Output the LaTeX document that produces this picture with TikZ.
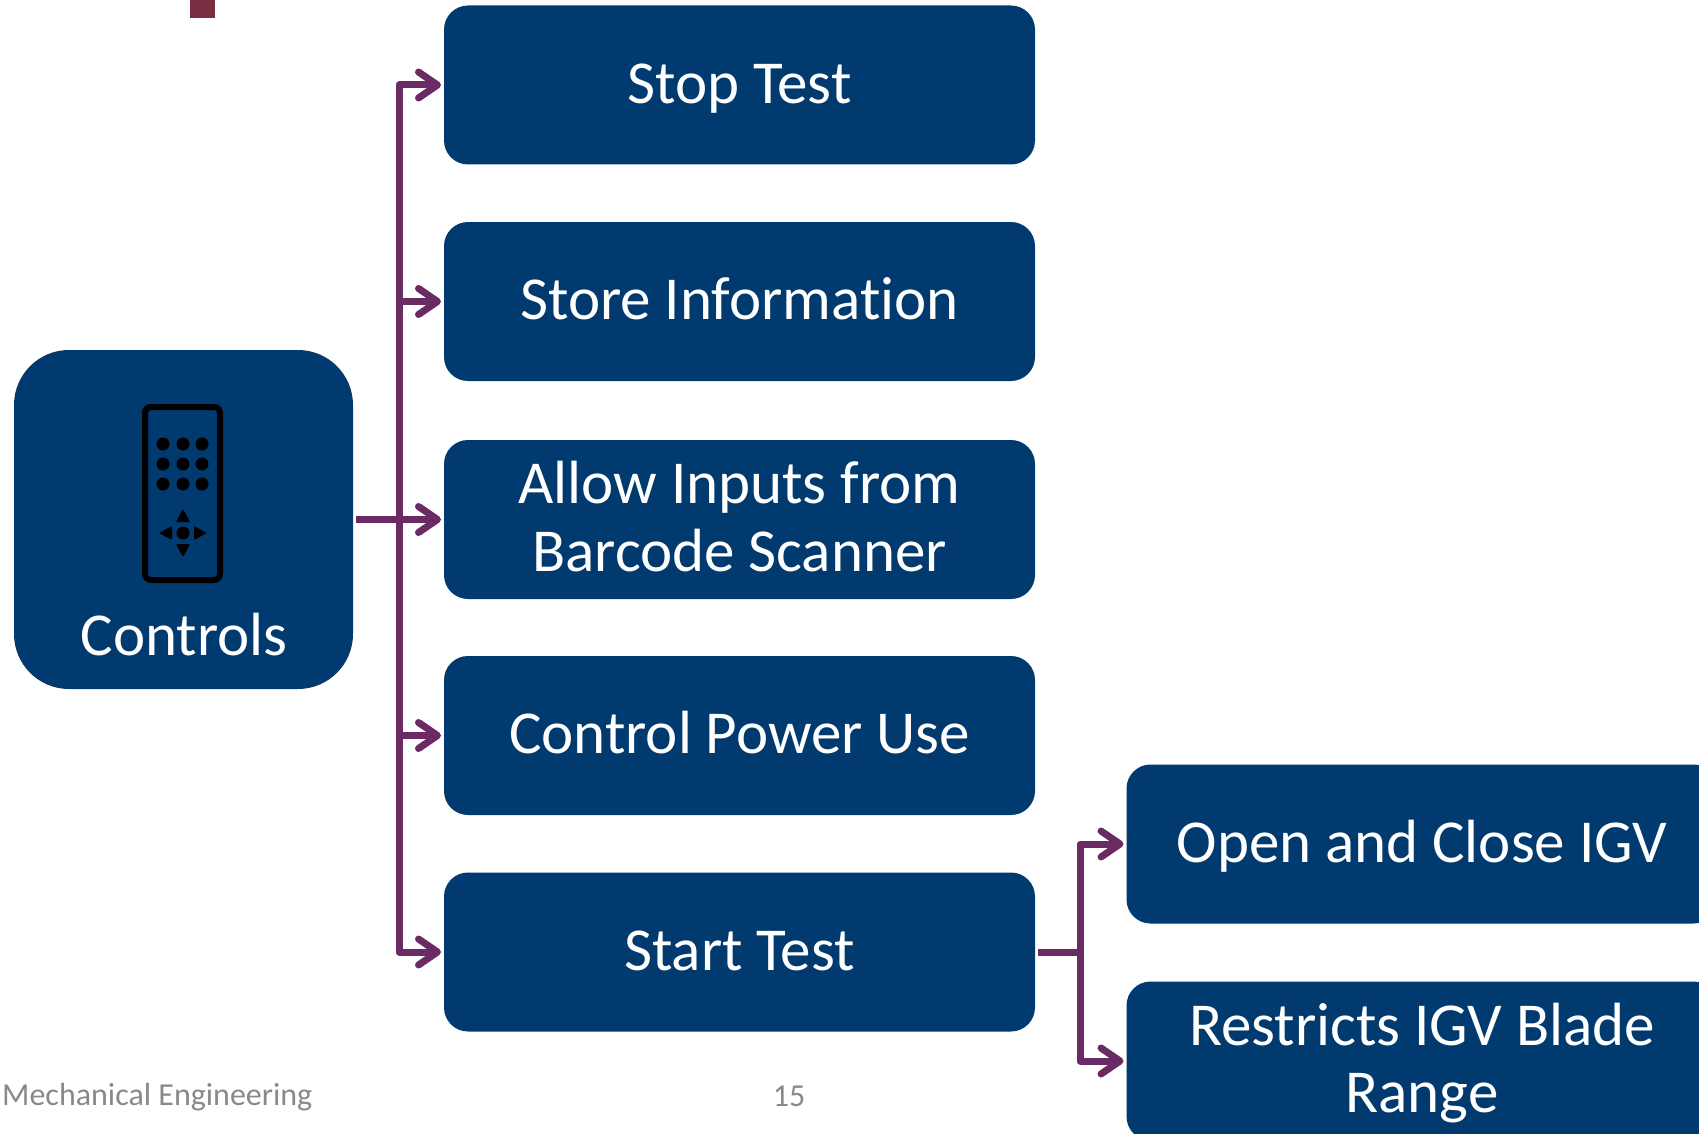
\documentclass[tikz,border=0pt]{standalone}
\usepackage{fontspec}
\setmainfont{Carlito}[Ligatures=CommonOff]
\usetikzlibrary{arrows.meta}
\definecolor{boxblue}{HTML}{003A6F}
\definecolor{flowpurple}{HTML}{6A2A64}
\definecolor{footgray}{HTML}{898989}
\definecolor{markred}{HTML}{7B2E42}
\newcommand{\linestrut}{\rule[-16pt]{0pt}{67.5pt}}
\tikzset{
taskbox/.style={fill=boxblue,text=white,minimum width=591pt,minimum height=159pt,rounded corners=24pt,inner sep=0pt,outer sep=3pt,align=center,font=\fontsize{61}{67.5}\selectfont},
onetask/.style={taskbox,text height=47.6pt,text depth=11.4pt},
flow/.style={draw=flowpurple,line width=7pt,line join=round},
flowarrow/.style={flow,-{Straight Barb[round,length=19pt,width=26pt]}},
footer/.style={text=footgray,inner sep=0pt,font=\fontsize{32}{38}\selectfont}
}
\begin{document}
\begin{tikzpicture}[x=1pt,y=-1pt]
\useasboundingbox (0,0) rectangle (1699,1134);
\fill[markred](190,0) rectangle +(25,18);
\node[taskbox,minimum width=339pt,minimum height=339pt,rounded corners=55pt] (controls) at (183.5,519.5) {};
\node[text=white,inner sep=0pt,font=\fontsize{61}{67.5}\selectfont] (controlslabel) at (184,635) {Controls};
\node[onetask] (stop) at (739.5,85) {Stop Test};
\node[onetask] (store) at (739.5,301.5) {Store Information};
\node[taskbox] (allow) at (739.5,519.5) {\linestrut Allow Inputs from\\\linestrut Barcode Scanner};
\node[onetask] (power) at (739.5,735.5) {Control Power Use};
\node[onetask] (start) at (739.5,952) {Start Test};
\node[onetask] (open) at (1422,844) {Open and Close IGV};
\node[taskbox] (restricts) at (1422,1061) {\linestrut Restricts IGV Blade\\\linestrut Range};
\node[footer,anchor=west] (dept) at (2,1097) {Mechanical Engineering};
\node[footer] (page) at (789,1096) {15};
\draw[black,line width=6pt,rounded corners=6pt] (145,407) rectangle (220,580);
\foreach \x in {163,183,202}
\foreach \y in {444,464,484}
\fill (\x,\y) circle (6.5);
\fill (183,533) circle (6.5);
\foreach \a in {0,90,180,270}
\fill[rotate around={\a:(183,533)},rounded corners=1pt] (194,526) -- (207,533) -- (194,540) -- cycle;
\coordinate (trunk) at (399,519.5);
\coordinate (branch) at (1080,952);
\draw[flowarrow] (controls.east) -- (allow.west);
\foreach \n in {stop,store,power,start}
\draw[flowarrow] (trunk) |- (\n.west);
\draw[flow] (start.east) -- (branch);
\foreach \n in {open,restricts}
\draw[flowarrow] (branch) |- (\n.west);
\end{tikzpicture}
\end{document}
